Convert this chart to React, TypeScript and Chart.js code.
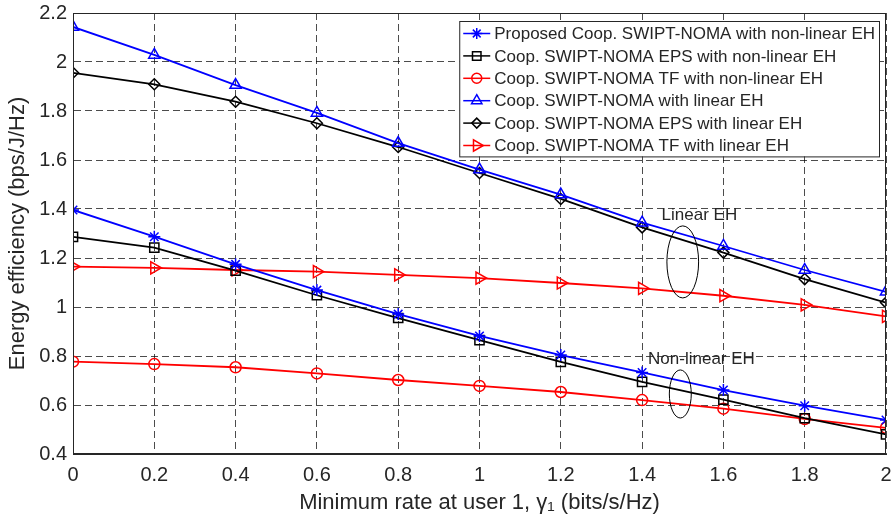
import React, { useEffect, useRef } from 'react';
import { Chart, registerables } from 'chart.js';
import { drawPoint } from 'chart.js/helpers';
Chart.register(...registerables);

const xValues = [0, 0.2, 0.4, 0.6, 0.8, 1, 1.2, 1.4, 1.6, 1.8, 2];
const proposedNonLinear = [1.396, 1.287, 1.174, 1.069, 0.971, 0.882, 0.804, 0.733, 0.661, 0.597, 0.539];
const epsNonLinear = [1.286, 1.242, 1.148, 1.048, 0.955, 0.865, 0.776, 0.694, 0.622, 0.546, 0.48];
const tfNonLinear = [0.777, 0.767, 0.754, 0.729, 0.702, 0.678, 0.653, 0.62, 0.585, 0.543, 0.507];
const coopLinear = [2.143, 2.029, 1.906, 1.792, 1.669, 1.561, 1.459, 1.344, 1.249, 1.151, 1.062];
const epsLinear = [1.956, 1.909, 1.838, 1.75, 1.653, 1.547, 1.441, 1.325, 1.222, 1.114, 1.018];
const tfLinear = [1.165, 1.16, 1.151, 1.144, 1.131, 1.118, 1.098, 1.076, 1.046, 1.009, 0.962];

const seriesLabels = [
  'Proposed Coop. SWIPT-NOMA with non-linear EH',
  'Coop. SWIPT-NOMA EPS with non-linear EH',
  'Coop. SWIPT-NOMA TF with non-linear EH',
  'Coop. SWIPT-NOMA with linear EH',
  'Coop. SWIPT-NOMA EPS with linear EH',
  'Coop. SWIPT-NOMA TF with linear EH',
];

const xTitle = 'Minimum rate at user 1, \u03b3\u2081 (bits/s/Hz)';
const yTitle = 'Energy efficiency (bps/J/Hz)';

// annotations in data coordinates
const annotationTexts = ['Linear EH', 'Non-linear EH'];
const annotationTextPos = [[1.541, 1.376], [1.546, 0.788]];
const ellipseCenters = [[1.5, 1.184], [1.494, 0.645]];
const ellipseRadii = [[0.039, 0.147], [0.027, 0.098]];

const FONT = '"Liberation Sans", Arial, Helvetica, sans-serif';
const TXT = '#262626';

const styles = [
  { color: '#0000ff', pointStyle: 'star', radius: 6, rotation: 0 },
  { color: '#000000', pointStyle: 'rect', radius: 6.5, rotation: 0 },
  { color: '#ff0000', pointStyle: 'circle', radius: 5.5, rotation: 0 },
  { color: '#0000ff', pointStyle: 'triangle', radius: 6.5, rotation: 0 },
  { color: '#000000', pointStyle: 'rectRot', radius: 5.5, rotation: 0 },
  { color: '#ff0000', pointStyle: 'triangle', radius: 7, rotation: 90 },
];

const allSeries = [proposedNonLinear, epsNonLinear, tfNonLinear, coopLinear, epsLinear, tfLinear];

const framePlugin = {
  id: 'framePlugin',
  afterDatasetsDraw(chart: any) {
    const { ctx, chartArea, scales } = chart;
    ctx.save();
    ctx.strokeStyle = '#262626';
    ctx.lineWidth = 1;
    ctx.setLineDash([]);
    ctx.strokeRect(chartArea.left + 0.5, chartArea.top + 0.5, chartArea.right - chartArea.left - 1, chartArea.bottom - chartArea.top - 1);

    // annotations
    ctx.fillStyle = TXT;
    ctx.font = `17px ${FONT}`;
    ctx.textAlign = 'center';
    ctx.textBaseline = 'middle';
    annotationTexts.forEach((t, i) => {
      ctx.fillText(t, scales.x.getPixelForValue(annotationTextPos[i][0]), scales.y.getPixelForValue(annotationTextPos[i][1]));
    });
    ctx.strokeStyle = '#000';
    ctx.lineWidth = 1;
    ellipseCenters.forEach((c, i) => {
      const cx = scales.x.getPixelForValue(c[0]);
      const cy = scales.y.getPixelForValue(c[1]);
      const rx = Math.abs(scales.x.getPixelForValue(c[0] + ellipseRadii[i][0]) - cx);
      const ry = Math.abs(scales.y.getPixelForValue(c[1] + ellipseRadii[i][1]) - cy);
      ctx.beginPath();
      ctx.ellipse(cx, cy, rx, ry, 0, 0, Math.PI * 2);
      ctx.stroke();
    });

    // legend
    ctx.font = `17px ${FONT}`;
    const rowH = 22.4;
    const maxW = Math.max(...seriesLabels.map((l) => ctx.measureText(l).width));
    const boxRight = chartArea.right - 7;
    const boxLeft = boxRight - (35 + maxW + 4);
    const boxTop = chartArea.top + 8;
    const boxH = rowH * seriesLabels.length + 1;
    ctx.fillStyle = '#fff';
    ctx.fillRect(boxLeft, boxTop, boxRight - boxLeft, boxH);
    ctx.strokeStyle = '#262626';
    ctx.lineWidth = 1;
    ctx.strokeRect(boxLeft + 0.5, boxTop + 0.5, boxRight - boxLeft, boxH);
    seriesLabels.forEach((label, i) => {
      const y = boxTop + 12.5 + i * rowH;
      const st = styles[i];
      ctx.strokeStyle = st.color;
      ctx.lineWidth = 1.5;
      ctx.beginPath();
      ctx.moveTo(boxLeft + 4, y);
      ctx.lineTo(boxLeft + 31, y);
      ctx.stroke();
      ctx.fillStyle = 'rgba(0,0,0,0)';
      drawPoint(ctx, { pointStyle: st.pointStyle, rotation: st.rotation, radius: st.radius - 0.5, borderWidth: 1.5 }, boxLeft + 17.5, y);
      ctx.fillStyle = TXT;
      ctx.textAlign = 'left';
      ctx.textBaseline = 'middle';
      ctx.fillText(label, boxLeft + 35, y + 1);
    });
    ctx.restore();
  },
};

const fmt = (v: number) => String(Number(Number(v).toFixed(1)));

export default function App() {
  const ref = useRef<HTMLCanvasElement>(null);
  useEffect(() => {
    document.body.style.margin = '0';
    const datasets = allSeries.map((arr, i) => ({
      label: seriesLabels[i],
      data: xValues.map((x, j) => ({ x, y: arr[j] })),
      borderColor: styles[i].color,
      backgroundColor: 'rgba(0,0,0,0)',
      pointBorderColor: styles[i].color,
      pointBackgroundColor: 'rgba(0,0,0,0)',
      pointStyle: styles[i].pointStyle as any,
      pointRotation: styles[i].rotation,
      pointRadius: styles[i].radius,
      pointBorderWidth: 1.5,
      borderWidth: 1.8,
      tension: 0,
    }));
    const chart = new Chart(ref.current!, {
      type: 'line',
      data: { datasets },
      plugins: [framePlugin],
      options: {
        responsive: false,
        animation: false,
        events: [],
        layout: { padding: { left: 0, top: 13, right: 9, bottom: 0 } },
        plugins: { legend: { display: false }, tooltip: { enabled: false } },
        scales: {
          x: {
            type: 'linear',
            min: 0,
            max: 2,
            ticks: { stepSize: 0.2, callback: (v: any) => fmt(v), color: TXT, font: { family: FONT, size: 20 }, padding: 0, maxRotation: 0 },
            grid: { color: 'rgba(0,0,0,0.7)', lineWidth: 1, drawTicks: true, tickLength: 9, tickColor: 'rgba(0,0,0,0)' },
            border: { display: true, color: '#262626', dash: [7, 4] },
            title: { display: true, text: xTitle, color: TXT, font: { family: FONT, size: 22 }, padding: { top: 0, bottom: 11 } },
            afterFit: (s: any) => { s.height = 73; },
          },
          y: {
            type: 'linear',
            min: 0.4,
            max: 2.2,
            ticks: { stepSize: 0.2, callback: (v: any) => fmt(v), color: TXT, font: { family: FONT, size: 20 }, padding: 0 },
            grid: { color: 'rgba(0,0,0,0.7)', lineWidth: 1, drawTicks: true, tickLength: 6, tickColor: 'rgba(0,0,0,0)' },
            border: { display: true, color: '#262626', dash: [7, 4] },
            title: { display: true, text: yTitle, color: TXT, font: { family: FONT, size: 22 }, padding: { top: 5, bottom: 0 } },
            afterFit: (s: any) => { s.width = 73; },
          },
        },
      } as any,
    });
    return () => chart.destroy();
  }, []);
  return (
    <div style={{ position: 'absolute', left: 0, top: 0, width: 895, height: 527, background: '#fff' }}>
      <canvas ref={ref} width={895} height={527} />
    </div>
  );
}
